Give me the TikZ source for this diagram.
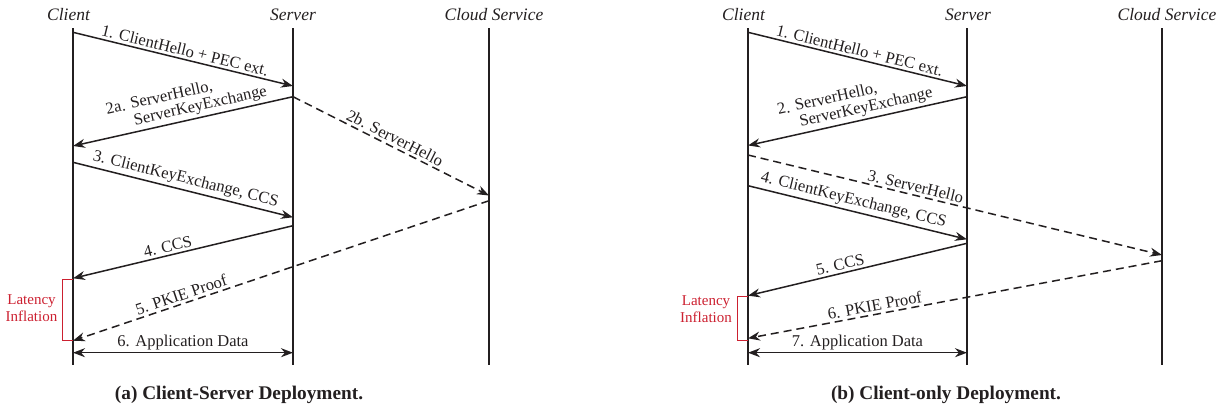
\documentclass[tikz,border=0pt]{standalone}
\usepackage{fontspec}
\setmainfont{Liberation Serif}
\usetikzlibrary{arrows.meta}
\definecolor{ink}{RGB}{35,31,32}
\definecolor{latred}{RGB}{204,32,48}
\begin{document}
\begin{tikzpicture}[x=1pt,y=-1pt,
  lane/.style={draw=ink,line width=2.2pt},
  msg/.style={draw=ink,line width=1.5pt,-{Stealth[length=12pt,width=9pt]}},
  bimsg/.style={draw=ink,line width=1.5pt,{Stealth[length=12pt,width=9pt]}-{Stealth[length=12pt,width=9pt]}},
  dmsg/.style={msg,dash pattern=on 8pt off 5pt},
  lbl/.style={font=\fontsize{16.5}{18}\selectfont,text=ink,inner sep=2.5pt},
  head/.style={font=\fontsize{17.5}{20}\selectfont\itshape,text=ink},
  lat/.style={font=\fontsize{15}{17}\selectfont,text=latred,align=center},
  brk/.style={draw=latred,line width=1pt},
  capt/.style={font=\fontsize{19.3}{22}\selectfont\bfseries,text=ink}]
\useasboundingbox (0,0) rectangle (1226,410);

% ---------------- Panel (a) ----------------
\node[head] (ha) at (68.5,15) {Client};
\node[head] (hsa) at (293,15) {Server};
\node[head] (hcla) at (494,15) {Cloud Service};
\coordinate (cta) at (73,28.3); \coordinate (cba) at (73,365);
\coordinate (sta) at (293,28.3); \coordinate (sba) at (293,365);
\coordinate (clta) at (489,28.3); \coordinate (clba) at (489,365);
\draw[lane] (cta) -- (cba);
\draw[lane] (sta) -- (sba);
\draw[lane] (clta) -- (clba);

\coordinate (a1s) at (73,32.3);  \coordinate (a1e) at (293,86);
\coordinate (a2s) at (293,96.7); \coordinate (a2e) at (73,146);
\coordinate (a2be) at (489,195.5);
\coordinate (a3s) at (73,162.3); \coordinate (a3e) at (293,217.3);
\coordinate (a4s) at (293,225.7);\coordinate (a4e) at (73,278.3);
\coordinate (a5s) at (489,200.7);\coordinate (a5e) at (73,340.7);
\coordinate (a6s) at (73,352.7); \coordinate (a6e) at (293,352.7);

\draw[msg] (a1s) -- node[lbl,above,sloped] {1. ClientHello + PEC ext.} (a1e);
\draw[msg] (a2s) -- node[lbl,above=17.5pt,sloped,pos=0.58] {2a. ServerHello,}
                    node[lbl,above,sloped,pos=0.41] {ServerKeyExchange} (a2e);
\draw[dmsg] (a2s) -- node[lbl,above,sloped,pos=0.5] {2b. ServerHello} (a2be);
\draw[msg] (a3s) -- node[lbl,above,sloped] {3. ClientKeyExchange, CCS} (a3e);
\draw[msg] (a4s) -- node[lbl,above,sloped,pos=0.56] {4. CCS} (a4e);
\draw[dmsg] (a5s) -- node[lbl,above,sloped,pos=0.733] {5. PKIE Proof} (a5e);
\draw[bimsg] (a6s) -- node[lbl,above,inner sep=1.5pt] {6. Application Data} (a6e);

\coordinate (bra1) at (73,279); \coordinate (bra2) at (62.7,279);
\coordinate (bra3) at (62.7,340.7); \coordinate (bra4) at (73,340.7);
\draw[brk] (bra1) -- (bra2) -- (bra3) -- (bra4);
\node[lat] (lata) at (31.5,308.5) {Latency\\Inflation};

\node[capt] (capa) at (239,395) {(a) Client-Server Deployment.};

% ---------------- Panel (b) ----------------
\node[head] (hb) at (743.5,15) {Client};
\node[head] (hsb) at (968,15) {Server};
\node[head] (hclb) at (1167,15) {Cloud Service};
\coordinate (ctb) at (748,28.3); \coordinate (cbb) at (748,365);
\coordinate (stb) at (967,28.3); \coordinate (sbb) at (967,365);
\coordinate (cltb) at (1162,28.3); \coordinate (clbb) at (1162,365);
\draw[lane] (ctb) -- (cbb);
\draw[lane] (stb) -- (sbb);
\draw[lane] (cltb) -- (clbb);

\coordinate (b1s) at (748,32.3);  \coordinate (b1e) at (967,86);
\coordinate (b2s) at (967,96.7);  \coordinate (b2e) at (748,145.5);
\coordinate (b3s) at (748,155);   \coordinate (b3e) at (1162,255);
\coordinate (b4s) at (748,185.7); \coordinate (b4e) at (967,239.3);
\coordinate (b5s) at (967,243.3); \coordinate (b5e) at (748,295.7);
\coordinate (b6s) at (1162,260.7);\coordinate (b6e) at (748,338.3);
\coordinate (b7s) at (748,352.7); \coordinate (b7e) at (967,352.7);

\draw[msg] (b1s) -- node[lbl,above,sloped] {1. ClientHello + PEC ext.} (b1e);
\draw[msg] (b2s) -- node[lbl,above=17.5pt,sloped,pos=0.61] {2. ServerHello,}
                    node[lbl,above,sloped,pos=0.45] {ServerKeyExchange} (b2e);
\draw[dmsg] (b3s) -- node[lbl,above,sloped,pos=0.40] {3. ServerHello} (b3e);
\draw[msg] (b4s) -- node[lbl,above,sloped,pos=0.47] {4. ClientKeyExchange, CCS} (b4e);
\draw[msg] (b5s) -- node[lbl,above,sloped,pos=0.57] {5. CCS} (b5e);
\draw[dmsg] (b6s) -- node[lbl,above,sloped,pos=0.69] {6. PKIE Proof} (b6e);
\draw[bimsg] (b7s) -- node[lbl,above,inner sep=1.5pt] {7. Application Data} (b7e);

\coordinate (brb1) at (748,296.7); \coordinate (brb2) at (737.3,296.7);
\coordinate (brb3) at (737.3,340); \coordinate (brb4) at (748,340);
\draw[brk] (brb1) -- (brb2) -- (brb3) -- (brb4);
\node[lat] (latb) at (706,309) {Latency\\Inflation};

\node[capt] (capb) at (946,395) {(b) Client-only Deployment.};
\end{tikzpicture}
\end{document}
